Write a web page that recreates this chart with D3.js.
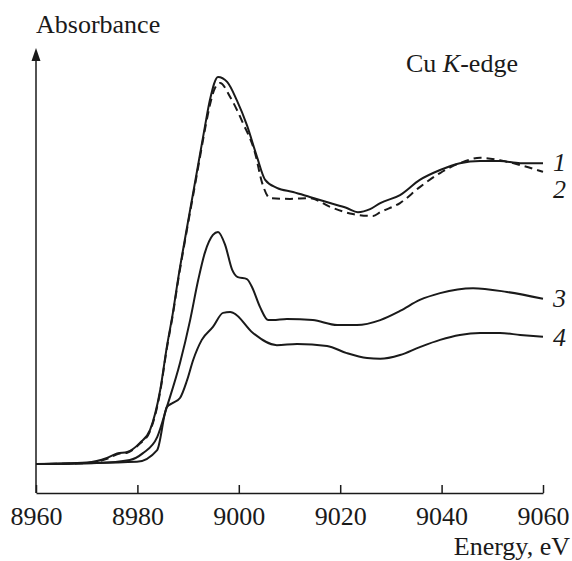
<!DOCTYPE html>
<html>
<head>
<meta charset="utf-8">
<script src="https://cdn.jsdelivr.net/npm/d3@7"></script>
<style>
  body { margin: 0; background: #fff; }
  text { font-family: "Liberation Serif", "Times New Roman", serif; fill: #1a1a1a; }
</style>
</head>
<body>
<script>
// Cu K-edge XANES spectra, absorbance in arbitrary units
const energy1 = [8960, 8970, 8974, 8976, 8978, 8980.5, 8982.5, 8984.5, 8985.8, 8987, 8988, 8989.8, 8991.8, 8993.3, 8994.3, 8995.9, 8997.7, 8999.6, 9001.6, 9003.6, 9005.2, 9007.5, 9010.7, 9014, 9018, 9021.3, 9023.5, 9025.9, 9027.9, 9031.8, 9035.7, 9039.7, 9043.6, 9047.6, 9051.5, 9055.5, 9060];
const curve1 = [0.076, 0.080, 0.092, 0.104, 0.108, 0.132, 0.166, 0.271, 0.384, 0.474, 0.561, 0.700, 0.850, 0.963, 1.034, 1.095, 1.082, 1.034, 0.968, 0.884, 0.824, 0.803, 0.792, 0.779, 0.763, 0.750, 0.739, 0.747, 0.763, 0.784, 0.824, 0.850, 0.868, 0.874, 0.874, 0.868, 0.868];

const energy2 = [8960, 8970, 8974, 8976, 8978, 8980.5, 8982.5, 8984.5, 8985.8, 8987, 8988, 8989.8, 8991.8, 8993.3, 8994.3, 8995.3, 8996.3, 8998.3, 9000.8, 9003.2, 9004.6, 9006.2, 9010.1, 9014, 9018, 9022.5, 9026.5, 9027.9, 9031.8, 9035.7, 9039.7, 9043.6, 9047.6, 9051.5, 9055.5, 9060];
const curve2 = [0.076, 0.079, 0.090, 0.102, 0.106, 0.130, 0.163, 0.267, 0.380, 0.470, 0.556, 0.695, 0.843, 0.955, 1.021, 1.066, 1.079, 1.042, 0.974, 0.895, 0.816, 0.776, 0.774, 0.776, 0.753, 0.734, 0.729, 0.739, 0.763, 0.805, 0.842, 0.868, 0.882, 0.876, 0.863, 0.845];

const energy3 = [8960, 8972, 8978.5, 8981.1, 8983.9, 8985.8, 8988.4, 8990.4, 8992, 8993.3, 8994.9, 8995.9, 8997.3, 8998.7, 8999.8, 9001.6, 9002.6, 9004.2, 9005.8, 9006.7, 9009.5, 9014.6, 9019.4, 9023.3, 9027.9, 9031.8, 9035.7, 9039.7, 9046.2, 9052.9, 9060];
const curve3 = [0.076, 0.079, 0.087, 0.105, 0.147, 0.226, 0.342, 0.455, 0.561, 0.632, 0.679, 0.687, 0.653, 0.587, 0.568, 0.563, 0.542, 0.489, 0.455, 0.455, 0.458, 0.455, 0.442, 0.442, 0.455, 0.479, 0.508, 0.526, 0.539, 0.529, 0.511];

const energy4 = [8960, 8979.9, 8983.9, 8985.8, 8987, 8988.4, 8989.8, 8991, 8992.7, 8994.9, 8996.9, 8998.3, 8998.9, 9002.8, 9007.5, 9011.5, 9017.4, 9021.3, 9025.3, 9027.9, 9031.8, 9035.7, 9039.7, 9043.6, 9047.6, 9051.5, 9055.5, 9060];
const curve4 = [0.076, 0.082, 0.113, 0.226, 0.237, 0.250, 0.297, 0.350, 0.403, 0.437, 0.474, 0.476, 0.474, 0.421, 0.389, 0.392, 0.387, 0.368, 0.355, 0.353, 0.363, 0.384, 0.403, 0.416, 0.421, 0.421, 0.416, 0.411];

const seriesNames = ["1", "2", "3", "4"];
const xTicks = [8960, 8980, 9000, 9020, 9040, 9060];

const width = 572, height = 561;
const svg = d3.select("body").append("svg")
  .attr("width", width)
  .attr("height", height);

const x = d3.scaleLinear().domain([8960, 9060]).range([36, 543]);
const y = d3.scaleLinear().domain([0, 1.2]).range([493, 37]);

const series = [
  {name: seriesNames[0], xs: energy1, ys: curve1, dash: null},
  {name: seriesNames[1], xs: energy2, ys: curve2, dash: "8,5"},
  {name: seriesNames[2], xs: energy3, ys: curve3, dash: null},
  {name: seriesNames[3], xs: energy4, ys: curve4, dash: null}
];

const line = d3.line()
  .x(d => x(d[0]))
  .y(d => y(d[1]))
  .curve(d3.curveMonotoneX);

svg.selectAll("path.spec")
  .data(series)
  .join("path")
  .attr("class", "spec")
  .attr("fill", "none")
  .attr("stroke", "#1a1a1a")
  .attr("stroke-width", 2)
  .attr("stroke-dasharray", d => d.dash)
  .attr("d", d => line(d.xs.map((e, i) => [e, d.ys[i]])));

// x axis, ticks pointing inward
const xAxis = svg.append("g")
  .attr("transform", `translate(0,${y(0)})`)
  .call(d3.axisBottom(x).tickValues(xTicks).tickSize(-8).tickSizeOuter(0).tickFormat(d3.format("d")));
xAxis.select(".domain").attr("stroke", "#1a1a1a").attr("stroke-width", 1.5);
xAxis.selectAll(".tick line").attr("stroke", "#1a1a1a").attr("stroke-width", 1.5);
xAxis.selectAll(".tick text")
  .attr("y", 32)
  .attr("dy", null)
  .style("font-size", "26px")
  .style("font-family", '"Liberation Serif", serif')
  .attr("fill", "#1a1a1a");

// y axis with arrow
svg.append("line")
  .attr("x1", x(8960)).attr("x2", x(8960))
  .attr("y1", y(0)).attr("y2", 58)
  .attr("stroke", "#1a1a1a").attr("stroke-width", 1.5);
svg.append("path")
  .attr("d", `M${x(8960)},48 L${x(8960) - 4.5},61 L${x(8960) + 4.5},61 Z`)
  .attr("fill", "#1a1a1a");

svg.append("text")
  .attr("x", 36).attr("y", 33)
  .style("font-size", "26px")
  .text("Absorbance");

svg.append("text")
  .attr("x", 570).attr("y", 555)
  .attr("text-anchor", "end")
  .style("font-size", "26px")
  .text("Energy, eV");

const title = svg.append("text")
  .attr("x", 406).attr("y", 72)
  .style("font-size", "26px");
title.append("tspan").text("Cu ");
title.append("tspan").style("font-style", "italic").text("K");
title.append("tspan").text("-edge");

// curve numbers at the right end
svg.selectAll("text.lbl")
  .data(series)
  .join("text")
  .attr("class", "lbl")
  .attr("x", 553)
  .attr("y", d => y(d.ys[d.ys.length - 1]) + 8)
  .attr("dy", (d, i) => [0, 18, 0, 1][i])
  .style("font-size", "26px")
  .style("font-style", "italic")
  .text(d => d.name);
</script>
</body>
</html>
